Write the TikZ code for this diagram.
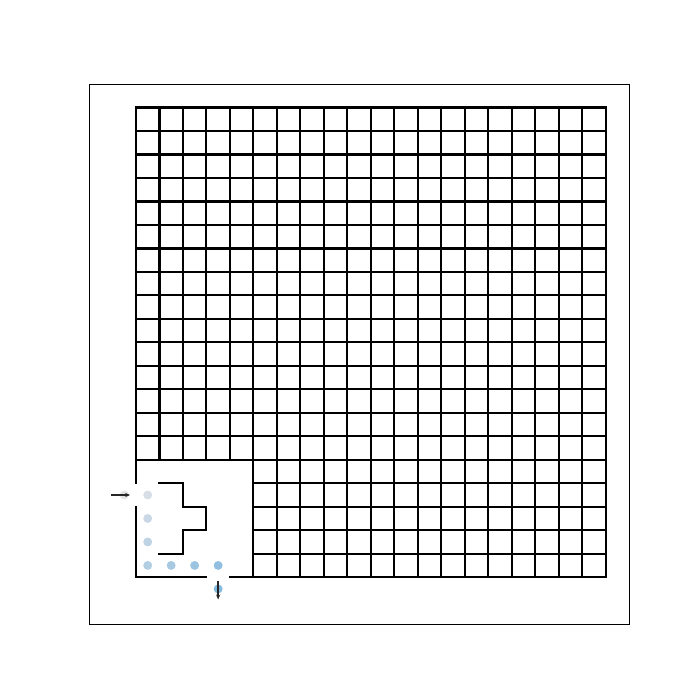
\documentclass[tikz,border=0pt]{standalone}
\usepackage{xcolor}
\usepackage{tikz}
\usetikzlibrary{positioning,arrows.meta,calc}
\definecolor{ink}{HTML}{000000}
\definecolor{dotlt}{HTML}{E4E4E6}
\definecolor{dotdk}{HTML}{84BADF}

\begin{document}
\begin{tikzpicture}[x=0.5cm,y=0.5cm,
  wall/.style={draw=ink,line width=1.3pt,line cap=rect},
  fr/.style={draw=ink,line width=0.6pt},
  pt/.style={circle,inner sep=0pt,minimum size=0.19cm},
  e/.style={-{Stealth[length=3pt,width=2.5pt]},line width=0.8pt,ink!85}]
  \useasboundingbox (-5.79,-5.23) rectangle (24.02,24.58);
  \draw[fr] (-2,-2) rectangle (21,21);
  % full cells
  \foreach \j in {5,...,20} \draw[wall] (0,\j) -- (20,\j);
  \foreach \j in {1,...,4} \draw[wall] (5,\j) -- (20,\j);
  \foreach \i in {5,...,20} \draw[wall] (\i,0) -- (\i,20);
  \foreach \i in {0,...,4} \draw[wall] (\i,5) -- (\i,20);
  % outer wall with openings
  \draw[wall] (0,0) -- (0,3); \draw[wall] (0,4) -- (0,5);
  \draw[wall] (0,0) -- (3,0); \draw[wall] (4,0) -- (20,0);
  % inner wall
  \draw[wall] (1,4) -- (2,4) -- (2,3) -- (3,3) -- (3,2) -- (2,2) -- (2,1) -- (1,1);
  % path
  \node[pt,fill=dotlt] (p0) at (-0.5,3.5) {};
  \node[pt,fill=dotdk!14!dotlt] (p1) at (0.5,3.5) {};
  \node[pt,fill=dotdk!28!dotlt] (p2) at (0.5,2.5) {};
  \node[pt,fill=dotdk!40!dotlt] (p3) at (0.5,1.5) {};
  \node[pt,fill=dotdk!52!dotlt] (p4) at (0.5,0.5) {};
  \node[pt,fill=dotdk!64!dotlt] (p5) at (1.5,0.5) {};
  \node[pt,fill=dotdk!76!dotlt] (p6) at (2.5,0.5) {};
  \node[pt,fill=dotdk!88!dotlt] (p7) at (3.5,0.5) {};
  \node[pt,fill=dotdk] (p8) at (3.5,-0.5) {};
  \coordinate (a0) at (-1.05,3.5);
  \coordinate (a1) at (-0.25,3.5);
  \coordinate (b0) at (3.5,-0.18);
  \coordinate (b1) at (3.5,-0.95);
  \draw[e] (a0) -- (a1);
  \draw[e] (b0) -- (b1);
\end{tikzpicture}
\end{document}
